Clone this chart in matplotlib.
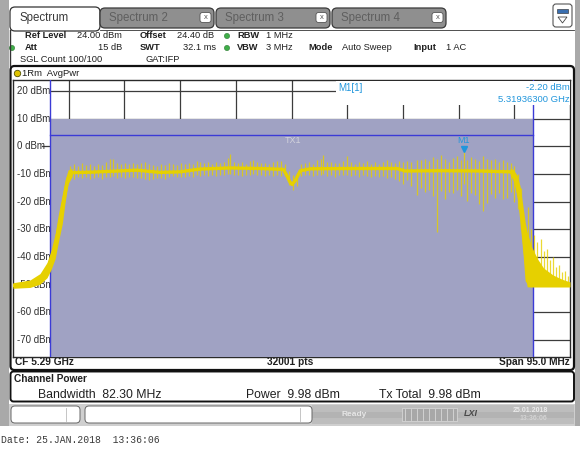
import matplotlib
matplotlib.use('Agg')
import matplotlib.pyplot as plt
from matplotlib.patches import Rectangle, FancyBboxPatch, Circle, Polygon

W, H = 580, 457
plt.rcParams['font.family'] = ['Liberation Sans', 'DejaVu Sans']

# ---------------- data ----------------
center_ghz = 5.29
span_mhz = 95.0
chan_bw_mhz = 82.30
ref_level = 24.0
y_bottom = -76.0
ytick_vals = [20, 10, 0, -10, -20, -30, -40, -50, -60, -70]
ytick_labels = ['20 dBm', '10 dBm', '0 dBm', '-10 dBm', '-20 dBm', '-30 dBm',
                '-40 dBm', '-50 dBm', '-60 dBm', '-70 dBm']
chan_line_dbm = 4.0
shade_top_dbm = 10.0

# main (averaged) trace, frequency offset from CF in MHz
trace_mhz = [-47.5, -44.6, -42.9, -41.7, -41.0, -40.3, -39.8, -39.1, -38.6, -38.1,
             -37.4, -33.9, -26.4, -22.4, -19.0, -15.6, -10.5, -5.4, -1.4, -0.8,
             -0.3, 0.1, 0.6, 1.5, 3.2, 10.0, 18.0, 19.4, 25.3, 32.2, 37.3, 37.8,
             38.5, 39.0, 39.5, 39.9, 40.2, 40.7, 47.5]
trace_dbm = [-50.3, -49.6, -47.8, -44.6, -41.0, -36.2, -30.5, -23.0, -16.6, -11.5,
             -9.5, -9.3, -8.6, -9.4, -9.2, -8.2, -7.8, -8.0, -8.3, -10.5,
             -12.8, -13.8, -12.5, -8.8, -8.1, -8.0, -8.0, -8.9, -8.8, -8.9, -9.2, -10.0,
             -14.4, -20.5, -31.0, -40.0, -48.5, -50.3, -50.3]

# band of the trace on the lower skirt (left side)
left_mhz = [-47.5, -44.6, -42.9, -41.7, -41.0, -40.3, -39.8, -39.1, -38.6, -38.1, -37.4]
left_hi = [-49.3, -48.3, -46.0, -42.0, -37.5, -31.5, -25.0, -17.5, -12.0, -8.5, -8.0]
left_lo = [-51.3, -51.0, -49.8, -47.5, -44.5, -40.5, -35.0, -28.0, -20.0, -13.5, -10.8]

# band of the trace on the upper skirt and the tail (right side)
right_mhz = [37.3, 37.8, 38.5, 39.0, 39.5, 39.9, 40.2, 40.9, 41.9, 43.0, 44.6, 46.1, 47.5]
right_hi = [-7.8, -8.3, -10.5, -14.5, -22.0, -28.0, -31.0, -36.0, -40.5, -44.0, -46.5, -48.0, -49.0]
right_lo = [-10.5, -12.0, -18.0, -26.0, -38.0, -46.0, -50.8, -50.8, -50.8, -50.8, -50.8, -50.8, -50.8]

# peak / pit excursions of the trace
spike_mhz = [-37.8, -37.1, -36.4, -35.7, -35.0, -34.4, -33.7, -33.0, -32.3, -31.6,
             -30.9, -30.4, -29.8, -29.1, -28.4, -27.7, -27.0, -26.4, -25.7, -25.0,
             -24.3, -23.6, -22.9, -22.3, -21.6, -20.9, -20.2, -19.5, -18.8, -18.2,
             -17.5, -16.8, -16.1, -15.6, -14.9, -14.2, -13.6, -12.9, -12.2, -11.5,
             -10.8, -10.5, -9.8, -9.1, -8.4, -7.8, -7.1, -6.6, -5.9, -5.2,
             -4.5, -3.8, -3.2, -2.5, -1.8, -1.1, -0.4, 0.3, 1.0, 1.6,
             2.3, 3.0, 3.7, 4.4, 5.0, 5.4, 6.1, 6.7, 7.4, 8.1,
             8.8, 9.5, 10.1, 10.8, 11.5, 12.2, 12.9, 13.6, 14.2, 14.9,
             15.6, 16.3, 17.0, 17.6, 18.3, 19.0, 19.7, 20.4, 21.4, 22.1,
             22.8, 23.5, 24.2, 24.8, 25.5, 26.2, 26.9, 27.6, 28.2, 28.9,
             29.4, 29.9, 30.6, 31.3, 32.0, 32.7, 33.3, 34.0, 34.7, 35.4,
             36.1, 36.8, 37.5, 38.0, 38.6, 39.1,
             40.4, 40.9, 41.4, 41.9, 42.5, 43.0, 43.5, 44.1, 44.6, 45.1,
             45.6, 46.1, 46.6, 47.2]
spike_top = [-7.0, -6.5, -7.2, -6.0, -6.8, -6.3, -7.0, -6.2, -6.6, -5.8,
             -4.6, -4.4, -6.0, -6.5, -5.9, -6.3, -6.0, -6.4, -6.1, -5.6,
             -6.5, -6.9, -7.0, -6.2, -6.8, -5.9, -6.4, -6.7, -6.1, -6.5,
             -6.0, -6.3, -5.3, -5.5, -6.0, -5.8, -6.2, -5.7, -6.0, -5.6,
             -4.3, -2.9, -5.5, -6.0, -5.8, -6.2, -5.4, -4.9, -5.7, -6.1,
             -5.9, -6.3, -5.6, -5.3, -5.2, -6.5, -9.0, -10.5, -9.5, -6.5,
             -6.0, -5.7, -6.2, -5.0, -4.5, -3.2, -5.8, -5.5, -6.1, -5.9,
             -5.2, -3.6, -5.8, -6.3, -5.7, -6.0, -5.4, -6.2, -5.8, -6.4,
             -5.5, -5.0, -5.6, -6.0, -5.3, -5.8, -5.2, -5.6, -5.0, -4.8,
             -4.5, -5.2, -4.0, -4.5, -3.0, -4.6, -5.5, -4.2, -3.6, -5.0,
             -2.2, -4.8, -3.8, -4.5, -5.2, -3.5, -4.4, -5.0, -4.6, -5.5,
             -4.8, -5.6, -6.0, -7.0, -10.0, -15.0,
             -22.0, -30.0, -32.0, -34.5, -33.5, -38.0, -37.0, -41.0, -40.0, -43.5,
             -43.0, -45.5, -45.0, -47.0]
spike_bot = [-11.5, -11.8, -11.0, -11.6, -11.2, -11.9, -11.4, -11.0, -11.7, -11.2,
             -11.0, -10.8, -11.5, -11.0, -11.3, -10.9, -11.2, -11.6, -11.3, -11.9,
             -12.0, -11.8, -11.6, -11.4, -11.7, -11.2, -10.8, -11.1, -10.9, -11.0,
             -10.6, -10.9, -10.5, -10.7, -10.4, -10.8, -10.3, -10.6, -10.2, -10.5,
             -10.1, -10.0, -10.4, -10.2, -10.6, -10.3, -10.4, -10.1, -10.5, -10.2,
             -10.6, -10.4, -10.7, -10.3, -10.6, -10.8, -14.0, -15.6, -14.5, -10.8,
             -10.5, -10.3, -10.6, -10.4, -10.2, -10.0, -10.6, -10.3, -10.9, -10.5,
             -10.2, -10.4, -10.7, -10.3, -10.9, -10.5, -10.8, -11.2, -10.6, -11.0,
             -10.7, -11.3, -11.0, -11.8, -12.5, -13.5, -12.0, -14.5, -17.4, -15.0,
             -16.5, -15.8, -18.0, -30.8, -16.0, -19.2, -16.5, -17.0, -15.8, -18.0,
             -13.5, -19.8, -16.8, -17.5, -21.0, -23.5, -20.5, -17.2, -18.8, -17.0,
             -19.0, -18.5, -16.5, -20.0, -22.8, -30.0,
             -50.5, -50.5, -50.5, -50.5, -50.5, -50.5, -50.5, -50.5, -50.5, -50.5,
             -50.5, -50.5, -50.5, -50.5]

marker_mhz = 29.363
marker_dbm = -2.20

# ---------------- colours ----------------
YEL = '#e6d000'
SHADE = '#a0a2c3'
BLUE_LINE = '#3b3bd6'
MK_BLUE = '#2196dc'
GRID = '#3c3c3c'
GRAYBG = '#a9a9a9'
TXT = '#202020'

fig = plt.figure(figsize=(W / 100, H / 100), dpi=100)
fig.patch.set_facecolor('white')

# ---------------- background / chrome ----------------
bg = fig.add_axes([0, 0, 1, 1], zorder=0)
bg.set_xlim(0, W); bg.set_ylim(H, 0); bg.axis('off')

bg.add_patch(Rectangle((0, 0), 9, 426, color=GRAYBG, lw=0))
bg.add_patch(Rectangle((575, 0), 5, 426, color=GRAYBG, lw=0))

# tabs
bg.add_patch(FancyBboxPatch((10, 7), 90, 24, boxstyle='round,pad=0,rounding_size=5',
                            fc='white', ec='#333333', lw=0.9))
bg.text(19, 18.5, 'Spectrum', fontsize=8.3, color='#3a3a3a', va='center')
for x0, lab in [(100, 'Spectrum 2'), (216, 'Spectrum 3'), (332, 'Spectrum 4')]:
    bg.add_patch(FancyBboxPatch((x0, 8), 114, 20, boxstyle='round,pad=0,rounding_size=5',
                                fc='#8f8f8f', ec='#3a3a3a', lw=0.9))
    bg.text(x0 + 9, 18.5, lab, fontsize=8.3, color='#5f5f5f', va='center')
    bg.add_patch(FancyBboxPatch((x0 + 100, 12.5), 11, 10, boxstyle='round,pad=0,rounding_size=2.5',
                                fc='white', ec='#555555', lw=0.6))
    bg.text(x0 + 105.5, 17.8, 'x', fontsize=5.5, color='#555555', ha='center', va='center')
# icon box top right
bg.add_patch(FancyBboxPatch((553, 4), 19, 23, boxstyle='round,pad=0,rounding_size=3',
                            fc='white', ec='#555555', lw=0.8))
bg.add_patch(Rectangle((557, 9), 11, 4, fc='#3a6fb0', ec='#222222', lw=0.4))
bg.add_patch(Polygon([[558, 17], [567, 17], [562.5, 23]], closed=True, fc='white', ec='#444444', lw=0.6))
# info panel border
bg.plot([10, 10], [30, 66], color='#333333', lw=1.0)
bg.plot([100, 574], [30, 30], color='#333333', lw=0.6)

fs = 6.7
def info(x, y, s, bold=False, ha='left'):
    bg.text(x, y, s, fontsize=fs, color=TXT, va='center', ha=ha,
            fontweight='bold' if bold else 'normal')

info(25, 36, 'Ref Level', True); info(77, 36, '24.00 dBm')
info(140, 36, 'Offset', True); info(177, 36, '24.40 dB')
info(237, 36, 'RBW', True); info(266, 36, '1 MHz')
info(25, 48, 'Att', True); info(122, 48, '15 dB', ha='right')
info(140, 48, 'SWT', True); info(216, 48, '32.1 ms', ha='right')
info(237, 48, 'VBW', True); info(266, 48, '3 MHz')
info(308, 48, 'Mode', True); info(342, 48, 'Auto Sweep')
info(413, 48, 'Input', True); info(446, 48, '1 AC')
info(20, 60, 'SGL Count 100/100'); info(146, 60, 'GAT:IFP')
for cx, cy in [(227, 36), (227, 48), (12, 48)]:
    bg.add_patch(Circle((cx, cy), 2.6, fc='#3fae49', ec='#2a7a30', lw=0.4))

# plot box
bg.add_patch(FancyBboxPatch((10.5, 66), 563.5, 304, boxstyle='round,pad=0,rounding_size=4',
                            fc='white', ec='#111111', lw=1.6))
bg.add_patch(Circle((17.5, 73.5), 3.2, fc='#e0c400', ec='#555500', lw=0.6))
bg.text(22, 73.5, '1Rm  AvgPwr', fontsize=6.8, color=TXT, va='center')
bg.text(15, 362, 'CF 5.29 GHz', fontsize=7.3, fontweight='bold', color=TXT, va='center')
bg.text(290, 362, '32001 pts', fontsize=7.3, fontweight='bold', color=TXT, va='center', ha='center')
bg.text(570, 362, 'Span 95.0 MHz', fontsize=7.3, fontweight='bold', color=TXT, va='center', ha='right')

# channel power box
bg.add_patch(FancyBboxPatch((10.5, 371.5), 563.5, 30, boxstyle='round,pad=0,rounding_size=3',
                            fc='white', ec='#111111', lw=1.4))
bg.text(14, 379, 'Channel Power', fontsize=7.3, fontweight='bold', color=TXT, va='center')
bg.text(38, 395, 'Bandwidth  82.30 MHz', fontsize=8.8, color=TXT, va='center')
bg.text(246, 395, 'Power  9.98 dBm', fontsize=8.8, color=TXT, va='center')
bg.text(379, 395, 'Tx Total  9.98 dBm', fontsize=8.8, color=TXT, va='center')

# status bar
bg.add_patch(Rectangle((9, 404), 566, 22, color='#cfcfcf', lw=0))
bg.add_patch(Rectangle((312, 405), 262, 19, color='#bdbdbd', lw=0))
bg.add_patch(Rectangle((312, 412), 262, 6, color='#b3b3b3', lw=0))
bg.add_patch(FancyBboxPatch((11, 406), 69, 17, boxstyle='round,pad=0,rounding_size=4',
                            fc='white', ec='#666666', lw=0.7))
bg.plot([66, 66], [408, 421], color='#bbbbbb', lw=0.6)
bg.add_patch(FancyBboxPatch((85, 406), 227, 17, boxstyle='round,pad=0,rounding_size=4',
                            fc='white', ec='#666666', lw=0.7))
bg.plot([300, 300], [408, 421], color='#bbbbbb', lw=0.6)
bg.text(342, 414, 'Ready', fontsize=6, color='#e6e6e6', fontweight='bold', va='center')
bg.add_patch(Rectangle((402, 408), 55, 13, fc='#a8a8a8', ec='#dddddd', lw=0.5))
for bx in range(405, 457, 6):
    bg.plot([bx, bx], [409, 420], color='#d8d8d8', lw=0.6)
bg.text(464, 414, 'LXI', fontsize=6.5, color='#4a4a4a', fontweight='bold', style='italic', va='center')
bg.text(513, 410, '25.01.2018', fontsize=5, color='#ececec', fontweight='bold', va='center')
bg.text(520, 418, '13:36:06', fontsize=5, color='#d4d4d4', fontweight='bold', va='center')

bg.text(1, 440, 'Date: 25.JAN.2018  13:36:06', fontsize=7.0, color='#3a3a3a',
        family=['Liberation Mono', 'DejaVu Sans Mono'], va='center')

# ---------------- spectrum graticule ----------------
x0p, x1p, y0p, y1p = 13, 570, 80, 356.6
ax = fig.add_axes([x0p / W, (H - y1p) / H, (x1p - x0p) / W, (y1p - y0p) / H], zorder=2)
half = span_mhz / 2
ax.set_xlim(-half, half)
ax.set_ylim(y_bottom, ref_level)
ax.set_xticks([]); ax.set_yticks([])
for s in ax.spines.values():
    s.set_color('#2a2a2a'); s.set_linewidth(1.0)
ax.patch.set_facecolor('white')

for k in range(1, 10):
    ax.axvline(-half + k * span_mhz / 10, color=GRID, lw=0.9, zorder=1)
for v in ytick_vals:
    ax.axhline(v, color=GRID, lw=0.9, zorder=1)

edge = chan_bw_mhz / 2
# left margin stays clear except for the short 0 dBm mark
ax.add_patch(Rectangle((-half, y_bottom), half - edge, ref_level - y_bottom - 0.6,
                       fc='white', ec='none', zorder=1.5))
ax.plot([-42.6, -edge], [0, 0], color=GRID, lw=0.9, zorder=1.6)
for v, lab in zip(ytick_vals, ytick_labels):
    ax.annotate(lab, xy=(-half, v), xytext=(3, 0), textcoords='offset points',
                fontsize=7.0, color='#303030', va='center', ha='left', zorder=2)
ax.add_patch(Rectangle((-edge, y_bottom), 2 * edge, shade_top_dbm - y_bottom,
                       fc=SHADE, ec='none', zorder=3))
ax.plot([-edge, edge], [chan_line_dbm, chan_line_dbm], color=BLUE_LINE, lw=1.0, zorder=4)
ax.plot([-edge, -edge], [y_bottom, ref_level], color=BLUE_LINE, lw=1.0, zorder=4)
ax.plot([edge, edge], [y_bottom, ref_level], color=BLUE_LINE, lw=1.0, zorder=4)
ax.text(0.2, 2.0, 'TX1', fontsize=6.5, color='#d2d2dc', ha='center', va='center', zorder=4)

# trace
ax.vlines(spike_mhz, spike_bot, spike_top, color=YEL, lw=0.9, alpha=0.8, zorder=5)
ax.fill_between(left_mhz, left_lo, left_hi, color=YEL, lw=0, zorder=6)
ax.fill_between(right_mhz, right_lo, right_hi, color=YEL, lw=0, zorder=6)
ax.plot(trace_mhz, trace_dbm, color=YEL, lw=2.4, solid_joinstyle='round', zorder=6)

ax.plot([marker_mhz], [marker_dbm + 1.3], marker='v', color=MK_BLUE, ms=4.5, zorder=7)
ax.text(marker_mhz, marker_dbm + 4.3, 'M1', fontsize=6.5, color=MK_BLUE, ha='center', va='center', zorder=7)

# ---------------- overlay (marker readout) ----------------
ov = fig.add_axes([0, 0, 1, 1], zorder=10)
ov.set_xlim(0, W); ov.set_ylim(H, 0); ov.axis('off'); ov.patch.set_alpha(0)
ov.add_patch(Rectangle((336, 81), 233.5, 23.5, fc='white', ec='none'))
ov.text(338, 88, 'M1[1]', fontsize=7.0, color=MK_BLUE, va='center')
ov.text(570, 87, '-2.20 dBm', fontsize=6.8, color=MK_BLUE, va='center', ha='right')
ov.text(570, 99, '5.31936300 GHz', fontsize=6.8, color=MK_BLUE, va='center', ha='right')

fig.savefig('out.png', dpi=100, facecolor='white')
